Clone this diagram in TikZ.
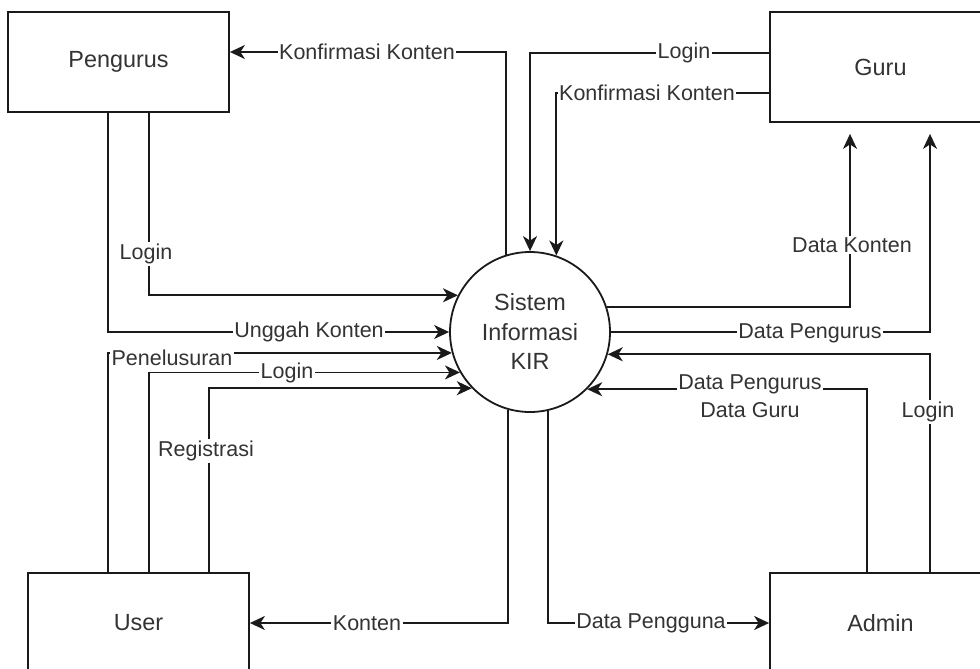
\documentclass[tikz,border=0pt]{standalone}
\usepackage{fontspec}
\setmainfont{Liberation Sans}
\usetikzlibrary{arrows.meta,calc}
\definecolor{txt}{HTML}{333333}
\definecolor{ln}{HTML}{1A1A1A}
\begin{document}
\begin{tikzpicture}[x=1pt,y=-1pt,
  ent/.style={draw=ln, line width=1.8pt, minimum width=221pt, minimum height=100pt, inner sep=0pt, text=txt, font=\fontsize{23.4}{28}\selectfont},
  proc/.style={draw=ln, circle, line width=1.8pt, minimum size=160pt, inner sep=0pt, align=center, text=txt, font=\fontsize{23.4}{29.5}\selectfont},
  flow/.style={line width=1.8pt, draw=ln, -{Stealth[length=15pt,width=14pt,inset=4.5pt]}},
  lbl/.style={fill=white, inner sep=1.5pt, text=txt, font=\fontsize{21.5}{28}\selectfont, align=center}]
\useasboundingbox (0,0) rectangle (980,669);
\clip (0,0) rectangle (980,669);
\fill[white] (0,0) rectangle (980,669);
% entities
\node[ent] (Pengurus) at (118.5,62) {Pengurus};
\node[ent, minimum height=110pt] (Guru) at (880.5,67) {Guru};
\node[ent] (User) at (138.5,623) {User};
\node[ent] (Admin) at (880.5,623) {Admin};
\node[proc] (S) at (530,332) {Sistem\\Informasi\\KIR};
% reference coordinates
\coordinate (x108) at (108,0);
\coordinate (x149) at (149,0);
\coordinate (x209) at (209,0);
\coordinate (x850) at (850,0);
\coordinate (x867) at (867,0);
\coordinate (x930) at (930,0);
\coordinate (r52) at (0,52);
\coordinate (r53) at (0,53);
\coordinate (r93) at (0,93);
% flows
\draw[flow] (S.107.46) |- (Pengurus.east |- r52);
\draw[flow] (Guru.west |- r53) -| (S.north);
\draw[flow] (Guru.west |- r93) -| (S.71.79);
\draw[flow] (Pengurus.south -| x149) |- (S.153.26);
\draw[flow] (Pengurus.south -| x108) |- (S.west);
\draw[flow] (User.north -| x108) |- (S.195.22);
\draw[flow] (User.north -| x149) |- (S.210.83);
\draw[flow] (User.north -| x209) |- (S.224.43);
\draw[flow] (S.254.04) |- (User.east);
\draw[flow] (S.283.74) |- (Admin.west);
\draw[flow, shorten >=11pt] (S.18.97) -| (Guru.south -| x850);
\draw[flow, shorten >=11pt] (S.east) -| (Guru.south -| x930);
\draw[flow] (Admin.north -| x930) |- (S.344.78);
\draw[flow] (Admin.north -| x867) |- (S.315.57);
% labels
\node[lbl] (lKonfP) at (367,52) {Konfirmasi Konten};
\node[lbl] (lLoginG) at (684,53) {Login};
\node[lbl] (lKonfG) at (647,93) {Konfirmasi Konten};
\node[lbl] (lLoginP) at (146,254) {Login};
\node[lbl] (lUnggah) at (309,332) {Unggah Konten};
\node[lbl] (lPenel) at (172,358) {Penelusuran};
\node[lbl] (lLoginU) at (287,373) {Login};
\node[lbl] (lReg) at (206,451) {Registrasi};
\node[lbl] (lKonten) at (367,623) {Konten};
\node[lbl] (lPengguna) at (651,623) {Data Pengguna};
\node[lbl] (lDataK) at (852,245) {Data Konten};
\node[lbl] (lDataP) at (810,333) {Data Pengurus};
\node[lbl] (lLoginA) at (928,412) {Login};
\node[lbl] (lDataPG) at (750,396) {Data Pengurus\\Data Guru};
\end{tikzpicture}
\end{document}
